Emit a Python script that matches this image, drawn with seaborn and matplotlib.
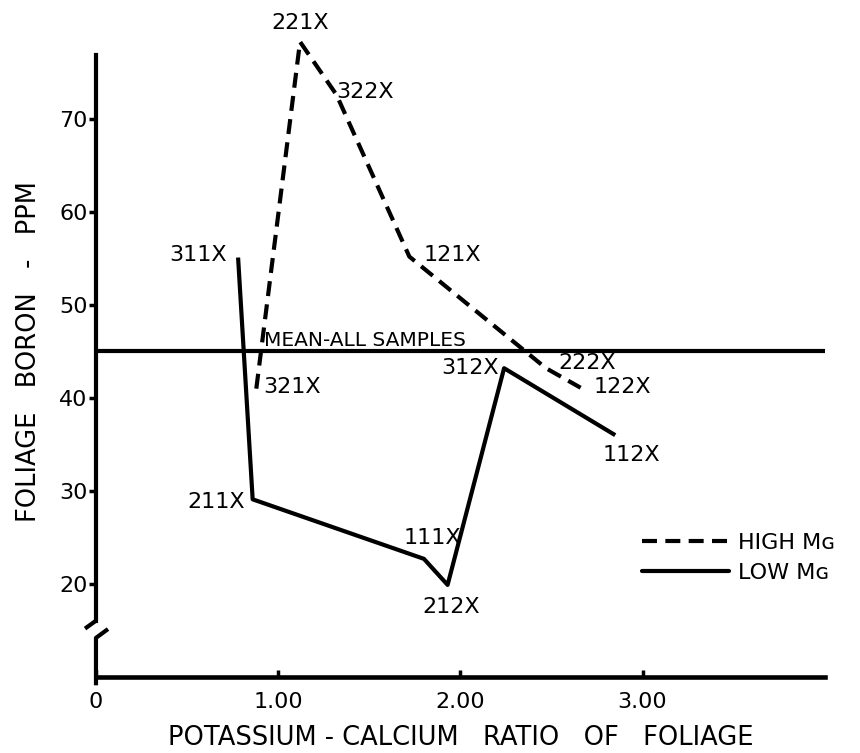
import matplotlib
matplotlib.use("Agg")
import matplotlib.pyplot as plt
import seaborn as sns
import pandas as pd
from matplotlib.lines import Line2D

# ---- data ----
high_labels = ["321X", "221X", "322X", "121X", "222X", "122X"]
high_ratio = [0.88, 1.12, 1.32, 1.72, 2.47, 2.66]
high_boron = [41.0, 78.3, 72.6, 55.2, 43.2, 41.1]

low_labels = ["311X", "211X", "111X", "212X", "312X", "112X"]
low_ratio = [0.78, 0.86, 1.80, 1.93, 2.24, 2.85]
low_boron = [55.1, 29.1, 22.7, 19.9, 43.2, 36.0]

mean_all = 45.0
x_ticks = [0, 1, 2, 3]
x_ticklabels = ["0", "1.00", "2.00", "3.00"]
y_ticks = [20, 30, 40, 50, 60, 70]
series_names = ["HIGH Mg", "LOW Mg"]
legend_texts = ["HIGH M\u0262", "LOW M\u0262"]

# label offsets (text position relative to the point, in data units) and alignment
high_label_pos = {
    "321X": (0.04, 0.2, "left", "center"),
    "221X": (0.0, 2.0, "center", "center"),
    "322X": (0.0, 0.3, "left", "center"),
    "121X": (0.08, 0.2, "left", "center"),
    "222X": (0.07, 0.6, "left", "center"),
    "122X": (0.07, 0.1, "left", "center"),
}
low_label_pos = {
    "311X": (-0.06, 0.3, "right", "center"),
    "211X": (-0.04, -0.3, "right", "center"),
    "111X": (-0.11, 2.2, "left", "center"),
    "212X": (0.02, -2.4, "center", "center"),
    "312X": (-0.03, 0.0, "right", "center"),
    "112X": (-0.07, -2.1, "left", "center"),
}

df = pd.concat([
    pd.DataFrame({"ratio": high_ratio, "boron": high_boron, "series": series_names[0], "order": range(len(high_ratio))}),
    pd.DataFrame({"ratio": low_ratio, "boron": low_boron, "series": series_names[1], "order": range(len(low_ratio))}),
])

sns.set_theme(style="white")
plt.rcParams["font.family"] = ["DejaVu Sans"]
for k in ["text.color", "axes.labelcolor", "xtick.color", "ytick.color", "axes.edgecolor"]:
    plt.rcParams[k] = "black"

fig = plt.figure(figsize=(8.6, 7.53), dpi=100)
ax = fig.add_axes([0.1116, 0.101, 0.8474, 0.8645])

LW = 3.0
DASH = (3.6, 2.0)
sns.lineplot(data=df, x="ratio", y="boron", style="series", sort=False, estimator=None,
             units="series", dashes={series_names[0]: DASH, series_names[1]: ""},
             color="black", linewidth=LW, legend=False, ax=ax)
for ln in ax.lines:
    ln.set_solid_capstyle("butt")
    ln.set_dash_capstyle("butt")

ax.axhline(mean_all, color="black", linewidth=LW)
ax.text(0.92, mean_all + 0.12, "MEAN-ALL SAMPLES", fontsize=14.5, ha="left", va="bottom")

for lab, x, y in zip(high_labels, high_ratio, high_boron):
    dx, dy, ha, va = high_label_pos[lab]
    ax.text(x + dx, y + dy, lab, fontsize=16, ha=ha, va=va, clip_on=False)
for lab, x, y in zip(low_labels, low_ratio, low_boron):
    dx, dy, ha, va = low_label_pos[lab]
    ax.text(x + dx, y + dy, lab, fontsize=16, ha=ha, va=va, clip_on=False)

ax.set_xlim(0, 4.0)
ax.set_ylim(10, 80)

# spines
for s in ["top", "right"]:
    ax.spines[s].set_visible(False)
ax.spines["bottom"].set_linewidth(LW + 0.3)
ax.spines["left"].set_linewidth(LW)
ax.spines["left"].set_bounds(16.0, 76.9)

# axis break on y
kw = dict(color="black", linewidth=LW, clip_on=False, solid_capstyle="butt")
ax.plot([0, -0.06], [16.05, 15.2], **kw)
ax.plot([0.066, 0, 0], [15.15, 14.2, 9.1], **kw)

ax.set_xticks(x_ticks)
ax.set_xticklabels(x_ticklabels)
ax.set_yticks(y_ticks)
ax.tick_params(axis="x", direction="in", length=5, width=2.5, pad=11, labelsize=16, bottom=True)
ax.tick_params(axis="y", direction="out", length=5, width=2.5, pad=1, labelsize=16, left=True)

ax.set_xlabel("POTASSIUM - CALCIUM   RATIO   OF   FOLIAGE", fontsize=18.5, labelpad=9)
ax.set_ylabel("FOLIAGE   BORON   -   PPM", fontsize=18.5, labelpad=12)

handles = [Line2D([], [], color="black", linewidth=LW, dashes=DASH, dash_capstyle="butt"),
           Line2D([], [], color="black", linewidth=LW)]
ax.legend(handles, legend_texts, frameon=False, fontsize=16, handlelength=3.9,
          handletextpad=0.4, labelspacing=0.45, loc="upper left",
          bbox_to_anchor=(0.722, 0.252))

fig.savefig("out.png", dpi=100, facecolor="white")
